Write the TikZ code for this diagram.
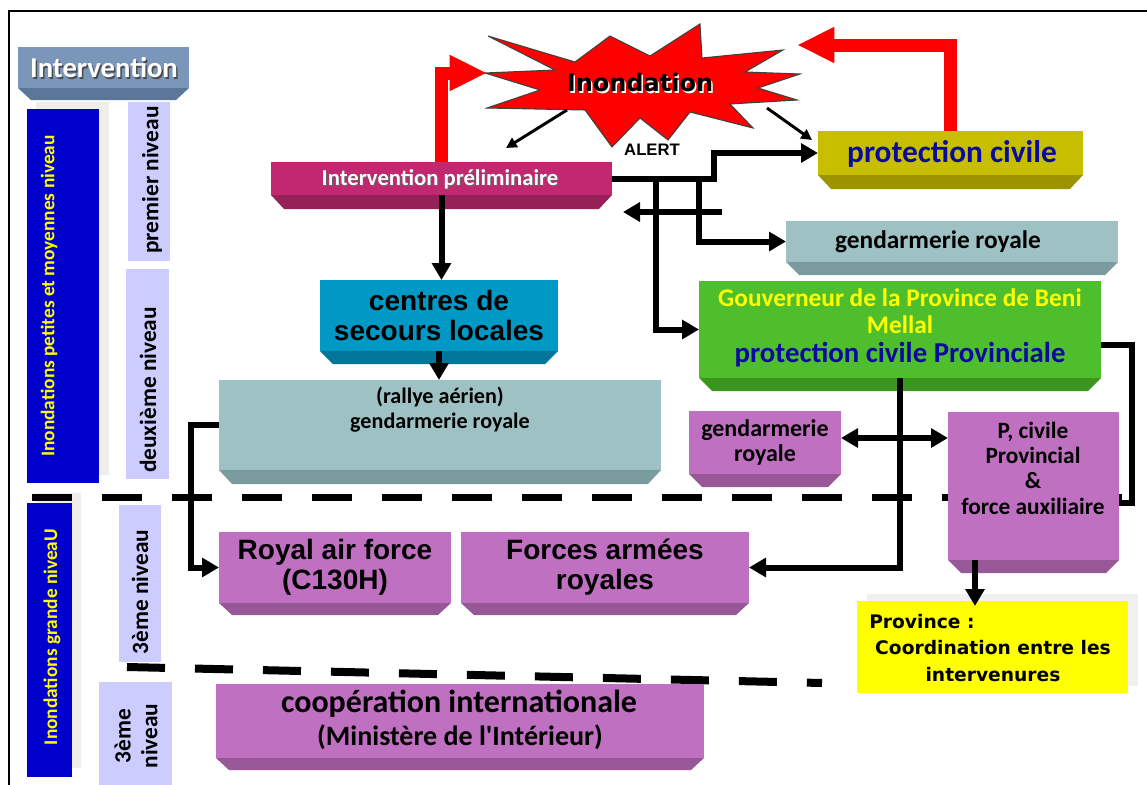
\documentclass[tikz,border=0pt]{standalone}
\usepackage{fontspec}
\setmainfont{Carlito}
\newfontfamily\arialf{Liberation Sans}
\newfontfamily\dejaf{DejaVu Sans}
\usetikzlibrary{arrows.meta,calc}
\definecolor{cInt}{RGB}{122,150,186}
\definecolor{cIntB}{RGB}{90,118,152}
\definecolor{cBlue}{RGB}{0,0,204}
\definecolor{cLav}{RGB}{204,204,255}
\definecolor{cStrip}{RGB}{240,238,232}
\definecolor{cMag}{RGB}{194,40,112}
\definecolor{cMagB}{RGB}{150,32,88}
\definecolor{cOl}{RGB}{200,190,0}
\definecolor{cOlB}{RGB}{155,148,0}
\definecolor{cTeal}{RGB}{158,194,196}
\definecolor{cTealB}{RGB}{122,156,158}
\definecolor{cGreen}{RGB}{78,190,44}
\definecolor{cGreenB}{RGB}{58,150,30}
\definecolor{cCyan}{RGB}{0,152,196}
\definecolor{cCyanB}{RGB}{0,118,154}
\definecolor{cPink}{RGB}{192,112,192}
\definecolor{cPinkB}{RGB}{152,88,152}
\definecolor{cDBlue}{RGB}{10,10,160}
\definecolor{cYel}{RGB}{255,255,0}
\definecolor{cShadow}{RGB}{240,240,240}
% name, x1, y1, x2, y2, y3 (bevel bottom), face colour, bevel colour
\newcommand\bevbox[8]{%
  \fill[#8] (#2,#5) -- (#4,#5) -- ({#4-13},#6) -- ({#2+13},#6) -- cycle;
  \node[fill=#7, inner sep=0pt, outer sep=0pt,
        minimum width={(#4-#2)*0.75pt}, minimum height={(#5-#3)*0.75pt}]
        (#1) at ({(#2+#4)/2},{(#3+#5)/2}) {};}
% name, x1, y1, x2, y2, colour
\newcommand\flatbox[6]{%
  \node[fill=#6, inner sep=0pt, outer sep=0pt,
        minimum width={(#4-#2)*0.75pt}, minimum height={(#5-#3)*0.75pt}]
        (#1) at ({(#2+#4)/2},{(#3+#5)/2}) {};}
\newcommand\fsz[2]{\fontsize{#1}{#2}\selectfont}
\begin{document}
\begin{tikzpicture}[x=0.75pt,y=-0.75pt,
  conn/.style={line width=4.5pt, draw=black},
  arr/.style={conn, -{Triangle[length=12.75pt,width=14pt]}},
  darr/.style={conn, {Triangle[length=12.75pt,width=14pt]}-{Triangle[length=12.75pt,width=14pt]}},
  redarr/.style={line width=9.75pt, draw=red, -{Triangle[length=28pt,width=25pt]}},
  thinarr/.style={line width=2.2pt, draw=black, -{Triangle[length=8pt,width=8pt]}},
  dashA/.style={line width=5.25pt, dash pattern=on 30pt off 22.5pt},
  dashB/.style={line width=6pt, dash pattern=on 28.5pt off 22.5pt},
  lbl/.style={inner sep=0pt, align=center},
  vlbl/.style={lbl, rotate=90, font=\bfseries\fsz{17.5}{20}},
  bartxt/.style={lbl, rotate=90, text=cYel, font=\bfseries\fsz{14.5}{16}}]
\useasboundingbox (0,0) rectangle (1147,785);
% frame
\draw[line width=1.5pt] (9,785) -- (9,11) -- (1147,11);

% left column
\fill[cStrip] (36,102) rectangle (109,475);
\fill[cStrip] (36,493) rectangle (81,768);
\flatbox{bar1}{27}{109}{99}{483}{cBlue}
\flatbox{bar2}{27}{503}{72}{777}{cBlue}
\flatbox{lv1}{128}{102}{170}{261}{cLav}
\flatbox{lv2}{126}{269}{169}{479}{cLav}
\flatbox{lv3}{119}{505}{161}{662}{cLav}
\flatbox{lv4}{99}{682}{172}{790}{cLav}
\bevbox{int}{18}{47}{189}{88}{100}{cInt}{cIntB}

% dashed separators
\coordinate (dA1) at (32,497);
\coordinate (dA2) at (1150,497);
\coordinate (dB1) at (127,667);
\coordinate (dB2) at (822,683);
\draw[dashA] (dA1) -- (dA2);
\draw[dashB] (dB1) -- (dB2);

% star
\fill[red, draw=black!75, line width=0.8pt]
  (488,36) -- (575,62) -- (610,36) -- (650,56) -- (700,24) -- (702,58)
  -- (783,50) -- (745,72) -- (800,74) -- (758,88) -- (797,100) -- (730,104)
  -- (753,128) -- (690,112) -- (668,140) -- (640,118) -- (612,147) -- (585,110)
  -- (487,108) -- (540,90) -- (485,73) -- (555,70) -- cycle;
\coordinate (stW) at (487,73);
\coordinate (stE) at (797,45);

% boxes
\bevbox{ip}{271}{162}{612}{195}{209}{cMag}{cMagB}
\bevbox{pc}{818}{131}{1083}{175}{189}{cOl}{cOlB}
\bevbox{gt}{786}{221}{1118}{262}{275}{cTeal}{cTealB}
\bevbox{gv}{699}{281}{1101}{378}{391}{cGreen}{cGreenB}
\bevbox{cs}{320}{280}{558}{351}{364}{cCyan}{cCyanB}
\bevbox{rl}{219}{380}{661}{470}{484}{cTeal}{cTealB}
\bevbox{raf}{219}{532}{451}{603}{615}{cPink}{cPinkB}
\bevbox{fa}{461}{532}{749}{603}{615}{cPink}{cPinkB}
\bevbox{gs}{689}{411}{841}{474}{487}{cPink}{cPinkB}
\bevbox{pcp}{948}{412}{1119}{560}{573}{cPink}{cPinkB}
\fill[cShadow] (867,594) rectangle (1138,686);
\flatbox{prov}{857}{601}{1128}{693}{cYel}
\bevbox{coop}{216}{684}{704}{758}{770}{cPink}{cPinkB}

% red arrows
\draw[redarr] (ip.north) |- (stW);
\draw[redarr] (pc.north) |- (stE);

% thin arrows from the star
\coordinate (s1a) at (567,110);
\coordinate (s1b) at (506,148);
\coordinate (s2a) at (767,108);
\coordinate (s2b) at (812,140);
\draw[thinarr] (s1a) -- (s1b);
\draw[thinarr] (s2a) -- (s2b);

% connectors
\draw[arr] (ip.south) -- (ip.south |- cs.north);
\draw[arr] (cs.south) -- (cs.south |- rl.north);
\draw[arr] (rl.west) -- ++(-28,0) |- (raf.west);
\draw[arr] (ip.east) -- ++(102,0) |- (pc.west);
\draw[arr] (ip.east) ++(44,0) |- (gv.west);
\draw[arr] (ip.east) ++(87,0) |- (gt.west);
\coordinate (la1) at (722,212);
\coordinate (la2) at (623,212);
\draw[arr] (la1) -- (la2);
\draw[conn] ($(gv.east)+(0,15)$) -- ++(31,0) |- ($(pcp.east)+(0,17)$);
\draw[arr] (gv.south) |- (fa.east);
\coordinate (jn) at (900,438);
\draw[darr] (gs.east |- jn) -- (pcp.west |- jn);
\draw[arr] ($(pcp.south west)+(27,0)$) -- ($(prov.north west)+(118,5)$);

% texts
\node[lbl, text=black!70, font=\bfseries\fsz{21.5}{24}] at (105.5,69.5) {Intervention};
\node[lbl, text=white, font=\bfseries\fsz{21.5}{24}] (tint) at (104,68) {Intervention};
\node[bartxt] (tbar1) at (49,296) {Inondations petites et moyennes niveau};
\node[bartxt] (tbar2) at (52,637) {Inondations grande niveaU};
\node[vlbl] (tlv1) at (152,180) {premier niveau};
\node[vlbl] (tlv2) at (148,390) {deuxième niveau};
\node[vlbl] (tlv3) at (140,592) {3ème niveau};
\node[vlbl] (tlv4) at (136,736) {3ème\\niveau};

\node[lbl, text=white, font=\dejaf\bfseries\fsz{18}{20}] at (641.5,84.5) {Inondation};
\node[lbl, font=\dejaf\bfseries\fsz{18}{20}] (tinond) at (640,83) {Inondation};
\node[lbl, font=\arialf\bfseries\fsz{12.5}{14}] (talert) at (652,150) {ALERT};

\node[lbl, text=black!60, font=\bfseries\fsz{17}{18}] at (441,180) {Intervention préliminaire};
\node[lbl, text=white, font=\bfseries\fsz{17}{18}] (tip) at (440,179) {Intervention préliminaire};
\node[lbl, text=cDBlue, font=\bfseries\fsz{23.5}{26}] (tpc) at (952,154) {protection civile};
\node[lbl, font=\bfseries\fsz{19}{22}] (tgt) at (938,242) {gendarmerie royale};
\node[lbl, text=cYel, font=\bfseries\fsz{19}{20}] (tgv1) at (900,298) {Gouverneur de la Province de Beni};
\node[lbl, text=cYel, font=\bfseries\fsz{19}{20}] (tgv2) at (900,325) {Mellal};
\node[lbl, text=cDBlue, font=\bfseries\fsz{21.6}{24}] (tgv3) at (900,355) {protection civile Provinciale};
\node[lbl, font=\arialf\bfseries\fsz{21}{22.5}] (tcs) at (439,315) {centres de\\secours locales};
\node[lbl, font=\bfseries\fsz{16.6}{18.75}] (trl) at (440,410) {(rallye aérien)\\gendarmerie royale};
\node[lbl, font=\arialf\bfseries\fsz{21}{22.5}] (traf) at (335,567) {Royal air force\\(C130H)};
\node[lbl, font=\arialf\bfseries\fsz{21}{22.5}] (tfa) at (605,567) {Forces armées\\royales};
\node[lbl, font=\bfseries\fsz{18}{18.75}] (tgs) at (765,442) {gendarmerie\\royale};
\node[lbl, font=\bfseries\fsz{17.5}{19}] (tpcp) at (1033,468) {P, civile\\Provincial\\\&\\force auxiliaire};
\node[lbl, anchor=west, font=\dejaf\bfseries\fsz{14}{20}] (tprov1) at (869,622) {Province :};
\node[lbl, font=\dejaf\bfseries\fsz{14}{20}] (tprov2) at (993,661) {Coordination entre les\\intervenures};
\node[lbl, font=\bfseries\fsz{24}{26}] (tcoop1) at (459,704) {coopération internationale};
\node[lbl, font=\bfseries\fsz{21}{22}] (tcoop2) at (460,737) {(Ministère de l\textquotesingle Intérieur)};
\end{tikzpicture}
\end{document}
